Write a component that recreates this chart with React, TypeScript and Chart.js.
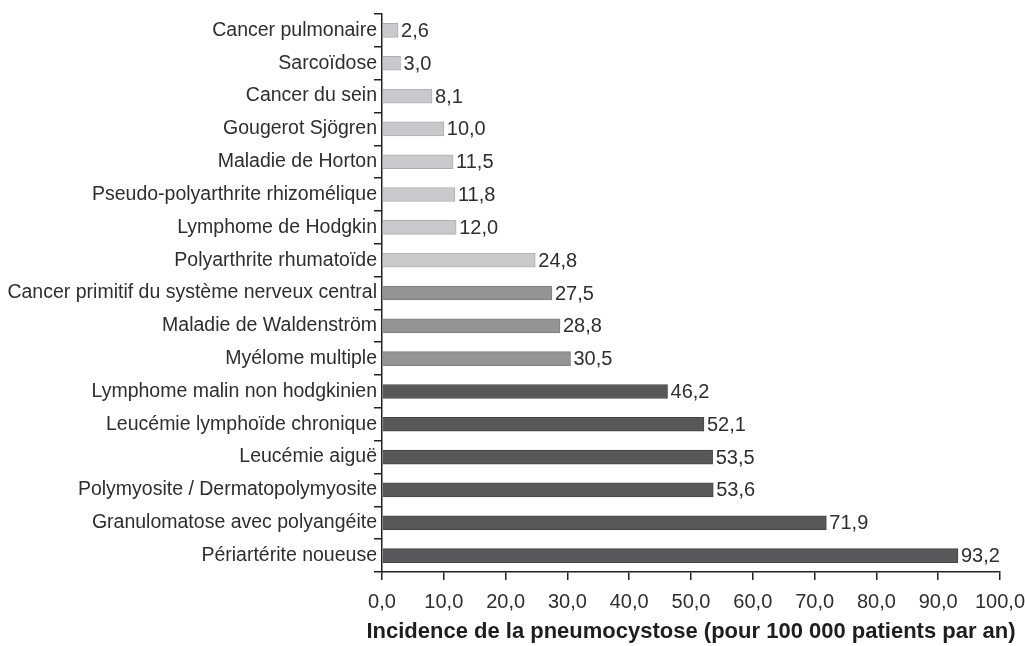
import React, { useEffect, useRef } from "react";
import { Chart, registerables } from "chart.js";

Chart.register(...registerables);

const categories = [
  "Cancer pulmonaire",
  "Sarcoïdose",
  "Cancer du sein",
  "Gougerot Sjögren",
  "Maladie de Horton",
  "Pseudo-polyarthrite rhizomélique",
  "Lymphome de Hodgkin",
  "Polyarthrite rhumatoïde",
  "Cancer primitif du système nerveux central",
  "Maladie de Waldenström",
  "Myélome multiple",
  "Lymphome malin non hodgkinien",
  "Leucémie lymphoïde chronique",
  "Leucémie aiguë",
  "Polymyosite / Dermatopolymyosite",
  "Granulomatose avec polyangéite",
  "Périartérite noueuse",
];

const incidence = [2.6, 3.0, 8.1, 10.0, 11.5, 11.8, 12.0, 24.8, 27.5, 28.8, 30.5, 46.2, 52.1, 53.5, 53.6, 71.9, 93.2];

const groups = ["light", "light", "light", "light", "light", "light", "light", "light", "mid", "mid", "mid", "dark", "dark", "dark", "dark", "dark", "dark"];

const axisTitle = "Incidence de la pneumocystose (pour 100 000 patients par an)";

const fillColors: Record<string, string> = { light: "#c9c9cb", mid: "#949496", dark: "#58585a" };
const borderColors: Record<string, string> = { light: "#aeaeb0", mid: "#7c7c7e", dark: "#444446" };

const FONT = "'Liberation Sans', Arial, sans-serif";

const fmt = (v: number) => v.toFixed(1).replace(".", ",");

const valueLabels = {
  id: "valueLabels",
  afterDatasetsDraw(chart: any) {
    const ctx = chart.ctx;
    const meta = chart.getDatasetMeta(0);
    ctx.save();
    ctx.font = "20px " + FONT;
    ctx.fillStyle = "#2e2e2e";
    ctx.textAlign = "left";
    ctx.textBaseline = "middle";
    meta.data.forEach((bar: any, i: number) => {
      ctx.fillText(fmt(incidence[i]), bar.x + 3, bar.y + 1);
    });
    ctx.restore();
  },
};

const wideTitle = {
  id: "wideTitle",
  afterDraw(chart: any) {
    const ctx = chart.ctx;
    const area = chart.chartArea;
    const xs = chart.scales.x;
    ctx.save();
    ctx.font = "bold 22px " + FONT;
    ctx.fillStyle = "#1e1e1e";
    ctx.textAlign = "center";
    ctx.textBaseline = "middle";
    ctx.fillText(axisTitle, (area.left + area.right) / 2, xs.bottom - 14);
    ctx.restore();
  },
};

export default function App() {
  const ref = useRef<HTMLCanvasElement>(null);
  useEffect(() => {
    document.body.style.margin = "0";
    const chart = new Chart(ref.current!, {
      type: "bar",
      data: {
        labels: categories,
        datasets: [
          {
            data: incidence,
            backgroundColor: groups.map((g) => fillColors[g]),
            borderColor: groups.map((g) => borderColors[g]),
            borderWidth: 1,
            barThickness: 14,
          },
        ],
      },
      options: {
        indexAxis: "y",
        animation: false,
        responsive: false,
        layout: { padding: { top: 14, right: 25, left: 0, bottom: 0 } },
        plugins: { legend: { display: false }, tooltip: { enabled: false } },
        scales: {
          x: {
            min: 0,
            max: 100,
            ticks: {
              stepSize: 10,
              maxRotation: 0,
              autoSkip: false,
              callback: (v: any) => fmt(Number(v)),
              font: { family: FONT, size: 20 },
              color: "#2e2e2e",
              padding: 10,
            },
            grid: { drawOnChartArea: false, drawTicks: true, tickLength: 8, color: "#222222", lineWidth: 1.5 },
            border: { display: true, color: "#222222", width: 1.5 },
            title: { display: false },
            afterFit: (s: any) => {
              s.height = 74;
              s.paddingRight = 0;
              s.paddingLeft = 0;
            },
          },
          y: {
            ticks: {
              font: { family: FONT, size: 19.5 },
              color: "#2e2e2e",
              padding: -3,
              autoSkip: false,
            },
            grid: { drawOnChartArea: false, drawTicks: true, tickLength: 8, offset: true, color: "#222222", lineWidth: 1.5 },
            border: { display: true, color: "#222222", width: 1.5 },
            afterFit: (s: any) => {
              s.width = 382;
              s.paddingTop = 0;
              s.paddingBottom = 0;
            },
          },
        },
      },
      plugins: [valueLabels, wideTitle],
    });
    return () => chart.destroy();
  }, []);
  return (
    <div style={{ width: 1025, height: 646 }}>
      <canvas ref={ref} width={1025} height={646} style={{ width: 1025, height: 646, display: "block" }} />
    </div>
  );
}
